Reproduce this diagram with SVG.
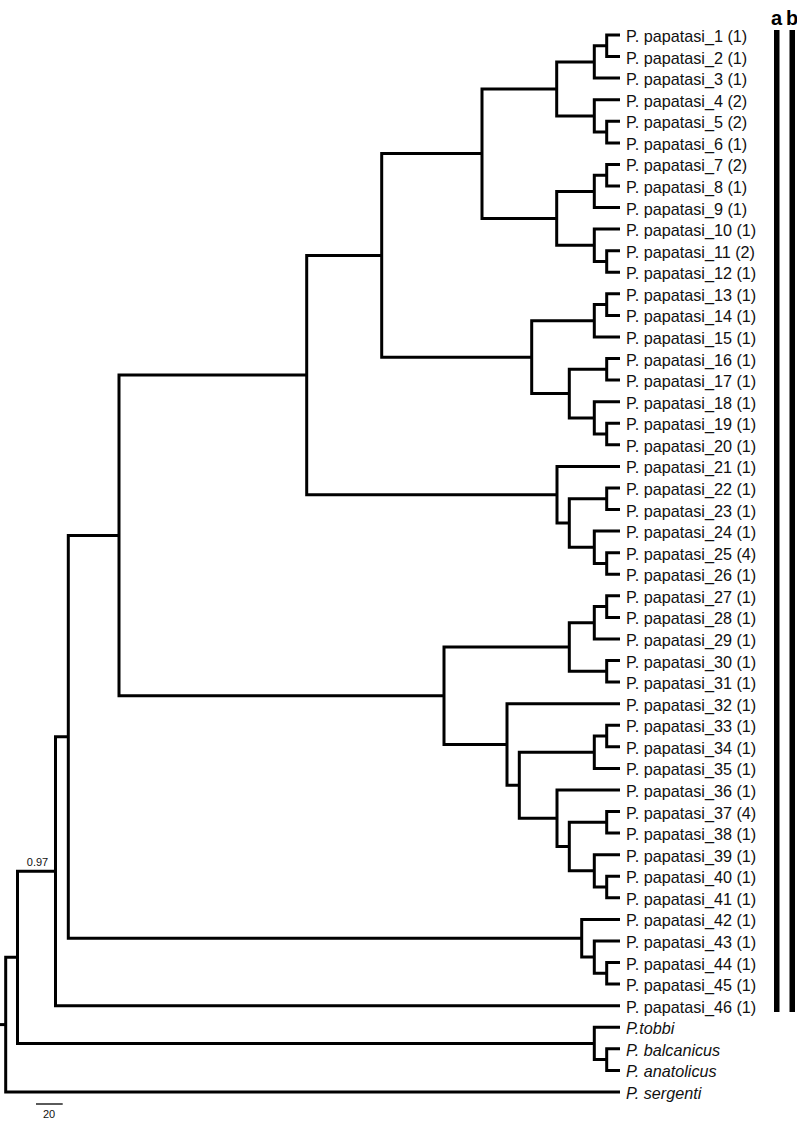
<svg xmlns="http://www.w3.org/2000/svg" width="797" height="1121" viewBox="0 0 797 1121">
<style>
.br{fill:none;stroke:#000;stroke-width:3;stroke-linejoin:miter;stroke-linecap:butt}
.lb{font-family:"Liberation Sans",Arial,sans-serif;font-size:16.2px;fill:#111}
.it{font-style:italic}
.sm{font-family:"Liberation Sans",Arial,sans-serif;font-size:11px;fill:#111;text-anchor:middle}
.hd{font-family:"Liberation Sans",Arial,sans-serif;font-size:20px;font-weight:bold;fill:#000;text-anchor:middle}
</style>
<rect width="797" height="1121" fill="#fff"/>
<g id="connectors" class="br">
<path d="M620 35 H606.7 V56.6 H620"/>
<path d="M606.7 45.8 H594.3 V78.1 H620"/>
<path d="M620 121.3 H606.7 V142.9 H620"/>
<path d="M620 99.7 H594.3 V132.1 H606.7"/>
<path d="M594.3 62 H556.7 V115.9 H594.3"/>
<path d="M620 164.4 H606.7 V186 H620"/>
<path d="M606.7 175.2 H594.3 V207.6 H620"/>
<path d="M620 250.7 H606.7 V272.3 H620"/>
<path d="M620 229.1 H594.3 V261.5 H606.7"/>
<path d="M594.3 191.4 H556.7 V245.3 H594.3"/>
<path d="M556.7 88.9 H482 V218.4 H556.7"/>
<path d="M620 293.8 H606.7 V315.4 H620"/>
<path d="M606.7 304.6 H594.3 V337 H620"/>
<path d="M620 358.6 H606.7 V380.1 H620"/>
<path d="M620 423.3 H606.7 V444.8 H620"/>
<path d="M620 401.7 H594.3 V434.1 H606.7"/>
<path d="M606.7 369.3 H569.3 V417.9 H594.3"/>
<path d="M594.3 320.8 H531.7 V393.6 H569.3"/>
<path d="M482 153.6 H381.7 V357.2 H531.7"/>
<path d="M620 488 H606.7 V509.5 H620"/>
<path d="M620 552.7 H606.7 V574.3 H620"/>
<path d="M620 531.1 H594.3 V563.5 H606.7"/>
<path d="M606.7 498.8 H569.3 V547.3 H594.3"/>
<path d="M620 466.4 H557 V523 H569.3"/>
<path d="M381.7 255.4 H306.7 V494.7 H557"/>
<path d="M620 595.8 H606.7 V617.4 H620"/>
<path d="M606.7 606.6 H594.3 V639 H620"/>
<path d="M620 660.5 H606.7 V682.1 H620"/>
<path d="M594.3 622.8 H569.3 V671.3 H606.7"/>
<path d="M620 725.2 H606.7 V746.8 H620"/>
<path d="M606.7 736 H594.3 V768.4 H620"/>
<path d="M620 811.5 H606.7 V833.1 H620"/>
<path d="M620 876.2 H606.7 V897.8 H620"/>
<path d="M620 854.7 H594.3 V887 H606.7"/>
<path d="M606.7 822.3 H569.3 V870.8 H594.3"/>
<path d="M620 790 H557 V846.6 H569.3"/>
<path d="M594.3 752.2 H519.3 V818.3 H557"/>
<path d="M620 703.7 H507 V785.2 H519.3"/>
<path d="M569.3 647.1 H444 V744.5 H507"/>
<path d="M306.7 375.1 H119 V695.8 H444"/>
<path d="M620 962.5 H606.7 V984.1 H620"/>
<path d="M620 940.9 H594.3 V973.3 H606.7"/>
<path d="M620 919.4 H581.7 V957.1 H594.3"/>
<path d="M119 535.4 H68.3 V938.3 H581.7"/>
<path d="M68.3 736.8 H55.5 V1005.7 H620"/>
<path d="M620 1048.8 H606.7 V1070.4 H620"/>
<path d="M620 1027.2 H594.3 V1059.6 H606.7"/>
<path d="M55.5 871.2 H17.5 V1043.4 H594.3"/>
<path d="M17.5 957.3 H5.7 V1091.9 H620"/>
<path d="M0 1024.6 H5.7"/>
</g>
<g id="leaves" class="lb">
<g id="leaf-1"><text x="626" y="42">P. papatasi_1 (1)</text></g>
<g id="leaf-2"><text x="626" y="63.6">P. papatasi_2 (1)</text></g>
<g id="leaf-3"><text x="626" y="85.1">P. papatasi_3 (1)</text></g>
<g id="leaf-4"><text x="626" y="106.7">P. papatasi_4 (2)</text></g>
<g id="leaf-5"><text x="626" y="128.3">P. papatasi_5 (2)</text></g>
<g id="leaf-6"><text x="626" y="149.9">P. papatasi_6 (1)</text></g>
<g id="leaf-7"><text x="626" y="171.4">P. papatasi_7 (2)</text></g>
<g id="leaf-8"><text x="626" y="193">P. papatasi_8 (1)</text></g>
<g id="leaf-9"><text x="626" y="214.6">P. papatasi_9 (1)</text></g>
<g id="leaf-10"><text x="626" y="236.1">P. papatasi_10 (1)</text></g>
<g id="leaf-11"><text x="626" y="257.7">P. papatasi_11 (2)</text></g>
<g id="leaf-12"><text x="626" y="279.3">P. papatasi_12 (1)</text></g>
<g id="leaf-13"><text x="626" y="300.8">P. papatasi_13 (1)</text></g>
<g id="leaf-14"><text x="626" y="322.4">P. papatasi_14 (1)</text></g>
<g id="leaf-15"><text x="626" y="344">P. papatasi_15 (1)</text></g>
<g id="leaf-16"><text x="626" y="365.6">P. papatasi_16 (1)</text></g>
<g id="leaf-17"><text x="626" y="387.1">P. papatasi_17 (1)</text></g>
<g id="leaf-18"><text x="626" y="408.7">P. papatasi_18 (1)</text></g>
<g id="leaf-19"><text x="626" y="430.3">P. papatasi_19 (1)</text></g>
<g id="leaf-20"><text x="626" y="451.8">P. papatasi_20 (1)</text></g>
<g id="leaf-21"><text x="626" y="473.4">P. papatasi_21 (1)</text></g>
<g id="leaf-22"><text x="626" y="495">P. papatasi_22 (1)</text></g>
<g id="leaf-23"><text x="626" y="516.5">P. papatasi_23 (1)</text></g>
<g id="leaf-24"><text x="626" y="538.1">P. papatasi_24 (1)</text></g>
<g id="leaf-25"><text x="626" y="559.7">P. papatasi_25 (4)</text></g>
<g id="leaf-26"><text x="626" y="581.3">P. papatasi_26 (1)</text></g>
<g id="leaf-27"><text x="626" y="602.8">P. papatasi_27 (1)</text></g>
<g id="leaf-28"><text x="626" y="624.4">P. papatasi_28 (1)</text></g>
<g id="leaf-29"><text x="626" y="646">P. papatasi_29 (1)</text></g>
<g id="leaf-30"><text x="626" y="667.5">P. papatasi_30 (1)</text></g>
<g id="leaf-31"><text x="626" y="689.1">P. papatasi_31 (1)</text></g>
<g id="leaf-32"><text x="626" y="710.7">P. papatasi_32 (1)</text></g>
<g id="leaf-33"><text x="626" y="732.2">P. papatasi_33 (1)</text></g>
<g id="leaf-34"><text x="626" y="753.8">P. papatasi_34 (1)</text></g>
<g id="leaf-35"><text x="626" y="775.4">P. papatasi_35 (1)</text></g>
<g id="leaf-36"><text x="626" y="797">P. papatasi_36 (1)</text></g>
<g id="leaf-37"><text x="626" y="818.5">P. papatasi_37 (4)</text></g>
<g id="leaf-38"><text x="626" y="840.1">P. papatasi_38 (1)</text></g>
<g id="leaf-39"><text x="626" y="861.7">P. papatasi_39 (1)</text></g>
<g id="leaf-40"><text x="626" y="883.2">P. papatasi_40 (1)</text></g>
<g id="leaf-41"><text x="626" y="904.8">P. papatasi_41 (1)</text></g>
<g id="leaf-42"><text x="626" y="926.4">P. papatasi_42 (1)</text></g>
<g id="leaf-43"><text x="626" y="947.9">P. papatasi_43 (1)</text></g>
<g id="leaf-44"><text x="626" y="969.5">P. papatasi_44 (1)</text></g>
<g id="leaf-45"><text x="626" y="991.1">P. papatasi_45 (1)</text></g>
<g id="leaf-46"><text x="626" y="1012.7">P. papatasi_46 (1)</text></g>
<g id="leaf-tobbi"><text class="it" x="626" y="1034.2">P.tobbi</text></g>
<g id="leaf-balcanicus"><text class="it" x="626" y="1055.8">P. balcanicus</text></g>
<g id="leaf-anatolicus"><text class="it" x="626" y="1077.4">P. anatolicus</text></g>
<g id="leaf-sergenti"><text class="it" x="626" y="1098.9">P. sergenti</text></g>
</g>
<g id="support"><text class="sm" x="37.5" y="866">0.97</text></g>
<g id="bar-a"><rect x="774" y="30" width="5.5" height="982" fill="#000"/><text class="hd" x="776.5" y="25">a</text></g>
<g id="bar-b"><rect x="789.5" y="30" width="5.5" height="982" fill="#000"/><text class="hd" x="792" y="25">b</text></g>
<g id="scale"><path d="M36 1104 H62.7" stroke="#000" stroke-width="1.3"/><text class="sm" x="49" y="1118">20</text></g>
</svg>
